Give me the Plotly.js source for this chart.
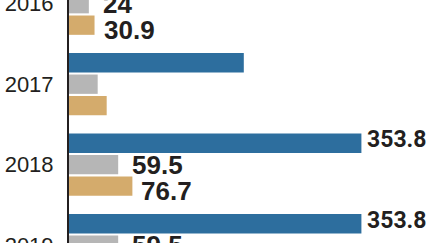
<!DOCTYPE html>
<html><head><meta charset="utf-8">
<script src="https://cdn.plot.ly/plotly-3.0.1.min.js"></script>
<style>html,body{margin:0;padding:0;background:#fff;overflow:hidden;width:431px;height:243px}</style>
</head><body><div id="chart" style="width:431px;height:300px"></div>
<script>
const years = ['2016', '2017', '2018', '2019'];
const blueValues = [null, 211.5, 353.8, 353.8];
const grayValues = [24, 34.7, 59.5, 59.5];
const tanValues = [30.9, 45.6, 76.7, null];
const blueLabels = ['', '', '353.8', '353.8'];
const grayLabels = ['24', '', '59.5', '59.5'];
const tanLabels = ['30.9', '', '76.7', ''];

const ink = '#231f20';
const series = [
  {vals: blueValues, labels: blueLabels, color: '#2d6e9e', xshift: 4, yshift: 25,
   font: {family: 'Roboto', size: 23, color: ink, weight: 'bold'}},
  {vals: grayValues, labels: grayLabels, color: '#b6b6b6', xshift: 12, yshift: 0,
   font: {family: 'Liberation Sans', size: 26, color: ink, weight: 'bold'}},
  {vals: tanValues, labels: tanLabels, color: '#d4ab6c', xshift: 7, yshift: -26,
   font: {family: 'Liberation Sans', size: 26, color: ink, weight: 'bold'}}
];

const traces = series.map(s => ({
  type: 'bar', orientation: 'h', y: years, x: s.vals,
  marker: {color: s.color}, hoverinfo: 'skip'
}));

const annotations = [];
series.forEach(s => {
  years.forEach((yr, i) => {
    if (s.labels[i] && s.vals[i] != null) {
      annotations.push({
        x: s.vals[i], y: i, xref: 'x', yref: 'y', text: s.labels[i],
        showarrow: false, xanchor: 'left', yanchor: 'middle',
        xshift: s.xshift, yshift: s.yshift, font: s.font
      });
    }
  });
});

const layout = {
  width: 431, height: 300,
  margin: {l: 69, r: 0, t: 0, b: 0, pad: 0},
  paper_bgcolor: '#fff', plot_bgcolor: '#fff',
  showlegend: false,
  barmode: 'group', bargap: 0.2, bargroupgap: 0.1,
  xaxis: {range: [0, 438], showticklabels: false, ticks: '', showline: false, showgrid: false, zeroline: false},
  yaxis: {
    type: 'category', categoryorder: 'array', categoryarray: years,
    range: [3.681, -0.046],
    showline: true, linecolor: ink, linewidth: 2,
    ticks: '', showgrid: false, zeroline: false,
    ticklabelstandoff: 9,
    tickfont: {family: 'Liberation Sans', size: 22, color: ink}
  },
  annotations: annotations
};

Plotly.newPlot('chart', traces, layout, {staticPlot: true, displayModeBar: false});
</script></body></html>
